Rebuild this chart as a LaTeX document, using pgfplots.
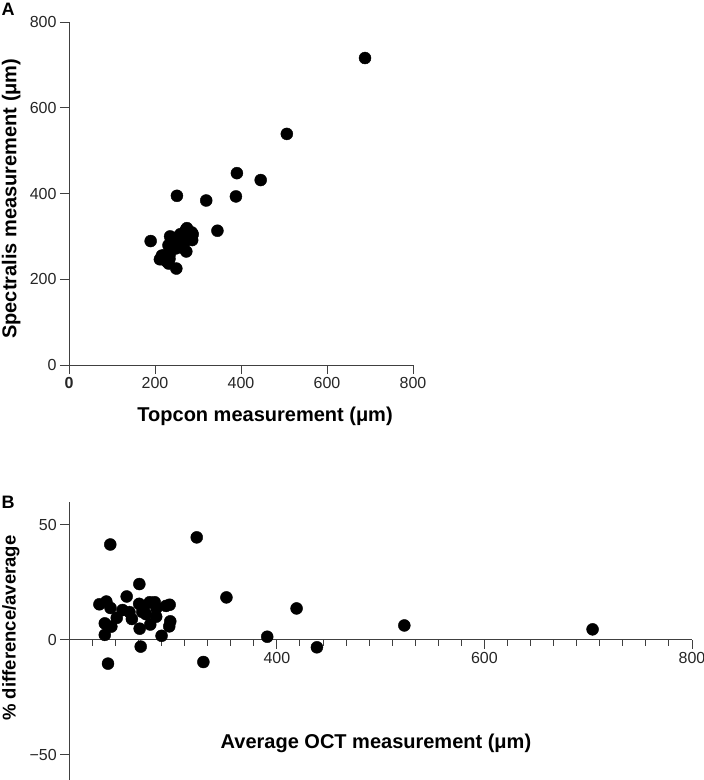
\documentclass[border=0pt]{standalone}
\usepackage{fontspec}
\setmainfont{Liberation Sans}
\usepackage{pgfplots}
\pgfplotsset{compat=1.18}

% Panel A: Topcon vs Spectralis
\pgfplotstableread{
T S
189.9 289.1
251.0 394.6
235.1 299.9
231.3 279.3
319.1 383.7
390.5 447.5
388.2 393.2
445.8 431.4
345.2 313.2
249.6 225.0
272.8 264.8
211.4 246.6
216.1 255.3
223.2 256.2
225.9 242.5
231.7 236.7
233.6 247.4
234.0 257.4
235.1 267.5
248.6 272.0
246.5 288.1
253.9 286.7
258.7 289.1
254.9 300.1
259.3 305.3
264.4 303.6
269.5 297.9
268.8 287.2
261.4 274.2
286.4 291.4
271.6 314.8
274.2 319.2
285.4 309.2
287.7 304.9
506.6 539.0
688.4 716.0
242.5 273.5
252.3 291.7
}\dataA

% Panel B: average vs % difference
\pgfplotstableread{
M D
239.5 41.4
322.8 44.5
267.5 24.2
255.3 18.8
351.4 18.4
419.0 13.6
390.7 1.3
438.6 -3.3
329.2 -9.7
237.3 -10.4
268.8 -3.0
229.0 15.4
235.7 16.6
239.7 13.8
234.2 7.1
234.2 2.1
240.5 5.7
245.7 9.5
251.3 12.9
260.3 9.0
267.3 15.6
270.3 12.1
273.9 11.1
277.5 16.3
282.3 16.3
284.0 13.8
283.7 10.0
278.0 6.6
267.8 4.8
288.9 1.7
293.2 14.7
296.7 15.2
297.3 8.0
296.3 5.8
522.8 6.2
704.2 4.5
258.0 12.0
272.0 14.5
}\dataB

\begin{document}
\begin{tikzpicture}
\useasboundingbox (0pt,-780pt) rectangle (704pt,0pt);
\pgfplotsset{
  every axis/.append style={
    scale only axis,
    axis line style={black!75, line width=0.9pt},
    every tick/.style={black!75, line width=0.9pt},
    major tick length=9pt,
    minor tick length=6pt,
    tick align=outside,
    tick label style={font=\fontsize{16}{19}\selectfont, text=black!85},
    label style={font=\bfseries\fontsize{20}{24}\selectfont},
    /pgf/number format/assume math mode=true,
    clip=false,
  },
  dots/.style={only marks, mark=*, mark size=6pt, mark options={fill=black, draw=none}},
}

\begin{axis}[
  at={(69pt,-365pt)}, anchor=south west,
  width=344pt, height=343pt,
  xmin=0, xmax=800, ymin=0, ymax=800,
  axis x line*=bottom, axis y line*=left,
  xtick={0,200,...,800}, ytick={0,200,...,800},
  xticklabels={\textbf{0},200,400,600,800},
  xlabel={Topcon measurement (μm)},
  ylabel={Spectralis measurement (μm)},
  xlabel style={at={(axis description cs:0.57,-0.151)}, anchor=center},
  ylabel style={at={(axis description cs:-0.168,0.485)}, anchor=center},
]
\addplot[dots] table[x=T, y=S] {\dataA};
\end{axis}

\begin{axis}[
  at={(69.3pt,-780pt)}, anchor=south west,
  width=622.7pt, height=278.3pt,
  xmin=200, xmax=800, ymin=-61, ymax=60,
  axis x line*=middle, axis y line*=left,
  xtick={200,400,600,800}, xticklabels={,400,600,800},
  minor x tick num=8,
  ytick={-50,0,50}, yticklabels={−50,0,50},
  xlabel={Average OCT measurement (μm)},
  ylabel={\% difference/average},
  xlabel style={at={(axis description cs:0.4925,0.133)}, anchor=center},
  ylabel style={at={(axis description cs:-0.094,0.546)}, anchor=center,
    font=\bfseries\fontsize{18.5}{22}\selectfont},
]
\addplot[dots] table[x=M, y=D] {\dataB};
\end{axis}

\node[font=\bfseries\fontsize{18}{21}\selectfont] at (8pt,-9pt) {A};
\node[font=\bfseries\fontsize{18}{21}\selectfont] at (8pt,-502pt) {B};
\end{tikzpicture}
\end{document}
